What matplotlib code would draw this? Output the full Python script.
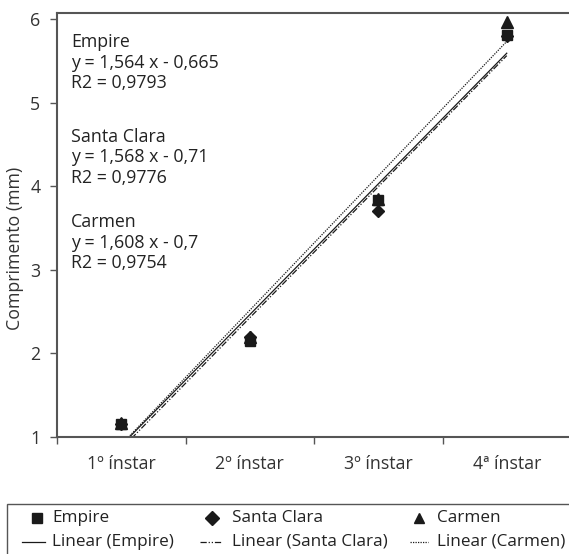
import matplotlib
matplotlib.use("Agg")
import matplotlib.pyplot as plt
import numpy as np
from matplotlib.lines import Line2D
from matplotlib.patches import Rectangle

plt.rcParams['font.family'] = ['Open Sans', 'DejaVu Sans']

categories = ["1º ínstar", "2º ínstar", "3º ínstar", "4ª ínstar"]
empire = [1.15, 2.15, 3.83, 5.81]
santa_clara = [1.15, 2.20, 3.70, 5.80]
carmen = [1.17, 2.20, 3.85, 5.97]
slopes = [1.564, 1.568, 1.608]
intercepts = [-0.665, -0.71, -0.7]
r2 = ["0,9793", "0,9776", "0,9754"]
names = ["Empire", "Santa Clara", "Carmen"]
eq_texts = ["y = 1,564 x - 0,665", "y = 1,568 x - 0,71", "y = 1,608 x - 0,7"]

W, H = 569, 554
fig = plt.figure(figsize=(W/100, H/100), dpi=100)
ax = fig.add_axes([57/W, (H-437)/H, (571-57)/W, (437-13)/H])

col = '#1a1a1a'
FS = 12.8
x = np.arange(1, len(categories)+1)
series = [empire, santa_clara, carmen]
markers = ['s', 'D', '^']
msizes = [7, 6.5, 8]
styles = ['-', (0, (5, 1.5, 1, 1.5, 1, 1.5)), (0, (1, 1))]

xs = np.array([1.0, 4.0])
for s, b, ls in zip(slopes, intercepts, styles):
    ax.plot(xs, s*xs + b, color=col, lw=0.9, ls=ls, zorder=2)
for vals, m, ms in zip(series, markers, msizes):
    ax.plot(x, vals, ls='none', marker=m, ms=ms, color=col, zorder=3)

ax.set_xlim(0.5, 4.5)
ax.set_ylim(1, 6.072)
ax.set_yticks([1, 2, 3, 4, 5, 6])
ax.set_xticks([0.5, 1.5, 2.5, 3.5, 4.5])
ax.set_xticklabels([])
ax.set_xticks(x, minor=True)
ax.set_xticklabels(categories, minor=True)
ax.tick_params(axis='x', which='minor', length=0, labelsize=FS, pad=13, colors='#333333')
ax.tick_params(axis='x', which='major', length=5, width=1, color='#555555')
ax.tick_params(axis='y', length=5, width=1, color='#555555', labelsize=FS, pad=7, labelcolor='#333333')
for side in ['left', 'bottom', 'top']:
    ax.spines[side].set_color('#555555')
    ax.spines[side].set_linewidth(1.5)
ax.spines['right'].set_visible(False)
ax.set_ylabel("Comprimento (mm)", fontsize=FS, color='#333333')
ax.yaxis.set_label_coords(-(57-15)/(571-57), (437-248)/(437-13))
ax.yaxis.label.set_va('center')

# equation texts
block_y = [42, 137, 222]
for by, n, eq, r in zip(block_y, names, eq_texts, r2):
    for i, t in enumerate([n, eq, "R2 = " + r]):
        fig.text(71/W, 1 - (by + i*20.5)/H, t, fontsize=FS, color='#222222', va='center', ha='left')

# legend box (Excel-style flowing legend)
fig.patches.append(Rectangle((7/W, -0.05), (600-7)/W, 0.05 + (H-504)/H, transform=fig.transFigure,
                             fill=False, edgecolor='#555555', lw=1.0))
LFS = 12.3
row1_y, row2_y = 518, 542
mk_pos = [(37, 52), (212, 232), (419, 437)]
mk_sizes = [7, 7, 7.5]
for (mx, tx), m, ms, n in zip(mk_pos, markers, mk_sizes, names):
    fig.add_artist(Line2D([mx/W], [1-row1_y/H], transform=fig.transFigure, ls='none',
                          marker=m, ms=ms, color=col))
    fig.text(tx/W, 1-row1_y/H, n, fontsize=LFS, color='#222222', va='center', ha='left')
ln_pos = [(22, 45, 52), (200, 222, 232), (410, 428, 437)]
for (x0, x1, tx), ls, n in zip(ln_pos, styles, names):
    fig.add_artist(Line2D([x0/W, x1/W], [1-row2_y/H]*2, transform=fig.transFigure,
                          ls=ls, lw=0.9, color=col))
    fig.text(tx/W, 1-row2_y/H, "Linear (" + n + ")", fontsize=LFS, color='#222222', va='center', ha='left')

fig.savefig("out.png", dpi=100)
